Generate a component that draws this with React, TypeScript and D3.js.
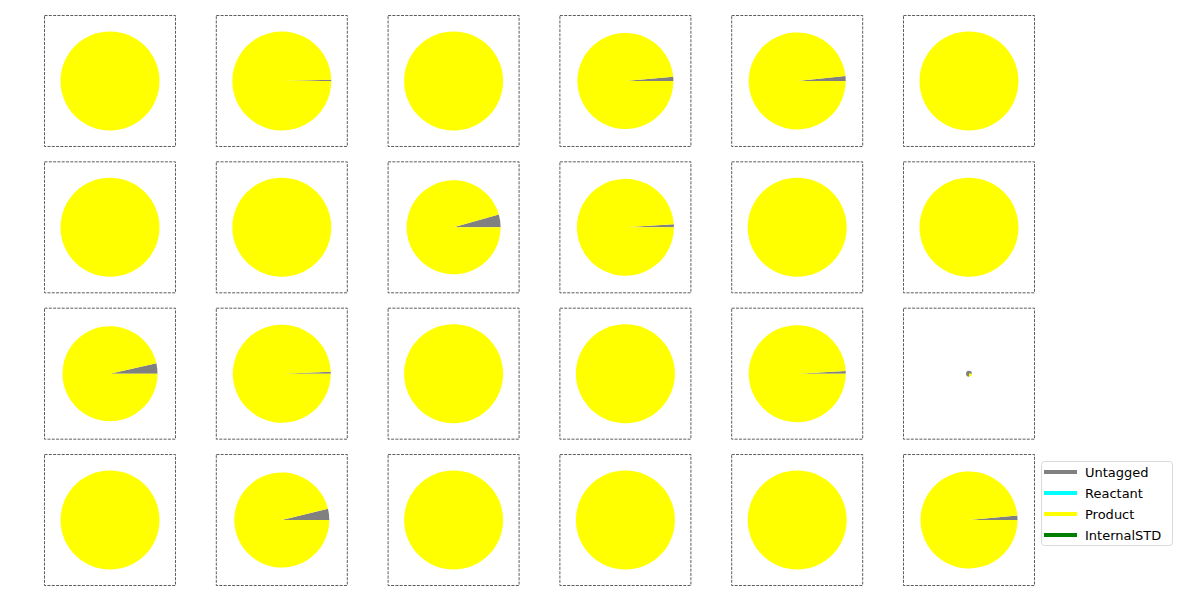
import * as d3 from 'd3';
import React, { useEffect, useRef } from 'react';

const categories = ['Untagged', 'Reactant', 'Product', 'InternalSTD'];
const colors = ['#808080', '#00ffff', '#ffff00', '#008000'];

// untagged share (%) for each of the 24 samples, row by row
const untagged = [
    0, 0.4, 0, 1.4, 1.6, 0,
    0, 0, 4.4, 1.0, 0, 0,
    3.5, 0.65, 0, 0, 0.9, 75,
    0, 3.8, 0, 0, 0, 1.5,
];
// relative total per sample (pie size)
const totals = [
    1, 1, 1, 0.97, 0.98, 1,
    1, 1, 0.95, 0.98, 1, 1,
    0.96, 0.99, 1, 1, 0.98, 0.06,
    1, 0.96, 1, 1, 1, 0.98,
];

const W = 1200;
const H = 600;
const nCols = 6;

const App = () => {
    const svgRef = useRef(null);

    useEffect(() => {
        const svg = d3.select(svgRef.current);
        svg.selectAll('*').remove();

        const x = d3.scaleBand().domain(d3.range(nCols).map(String)).range([44, 1034]).paddingInner(0.2375);
        const y = d3.scaleBand().domain(d3.range(4).map(String)).range([15, 585]).paddingInner(0.105);
        const maxR = 49.5;

        const pie = d3.pie<number>().sort(null).value(d => d);

        untagged.forEach((u, i) => {
            const col = i % nCols;
            const row = Math.floor(i / nCols);
            const bx = x(String(col))!;
            const by = y(String(row))!;
            const g = svg.append('g');
            g.append('rect')
                .attr('x', bx + 0.5).attr('y', by + 0.5)
                .attr('width', x.bandwidth()).attr('height', y.bandwidth())
                .attr('fill', 'none').attr('stroke', '#333')
                .attr('stroke-width', 0.8).attr('stroke-dasharray', '3,1.3');
            const values = [u, 0, 100 - u, 0];
            const arcs = pie(values);
            const r = maxR * totals[i];
            const arc = d3.arc<d3.PieArcDatum<number>>().innerRadius(0).outerRadius(r);
            g.append('g')
                .attr('transform', `translate(${bx + x.bandwidth() / 2 + 0.5},${by + y.bandwidth() / 2 + 0.5})`)
                .selectAll('path')
                .data(arcs)
                .join('path')
                // matplotlib style: start at 3 o'clock, counterclockwise
                .attr('d', d => arc({ ...d, startAngle: Math.PI / 2 - d.endAngle, endAngle: Math.PI / 2 - d.startAngle }))
                .attr('fill', (d, j) => colors[j]);
        });

        const legend = svg.append('g').attr('transform', 'translate(1041,461)');
        legend.append('rect')
            .attr('x', 0.5).attr('y', 0.5).attr('width', 131).attr('height', 84)
            .attr('rx', 3).attr('fill', 'white').attr('stroke', '#d9d9d9');
        categories.forEach((c, i) => {
            const ly = 11 + i * 21;
            legend.append('line')
                .attr('x1', 3).attr('x2', 36).attr('y1', ly).attr('y2', ly)
                .attr('stroke', colors[i]).attr('stroke-width', 4);
            legend.append('text')
                .attr('x', 44).attr('y', ly).attr('dy', '0.35em')
                .attr('font-family', 'DejaVu Sans').attr('font-size', 13)
                .attr('fill', '#000').text(c);
        });
    }, []);

    return <svg ref={svgRef} width={W} height={H} style={{ position: 'absolute', left: 0, top: 0 }} />;
};

export default App;
